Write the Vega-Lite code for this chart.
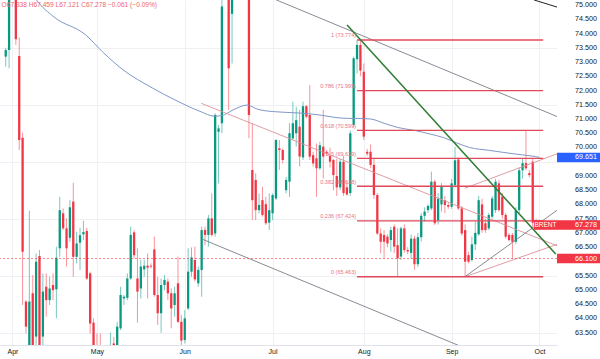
{
  "$schema": "https://vega.github.io/schema/vega-lite/v6.json",
  "width": 557,
  "height": 345,
  "autosize": {"type": "none"},
  "padding": {"left": 0, "top": 0, "right": 43, "bottom": 14},
  "background": "#ffffff",
  "config": {"view": {"stroke": null}, "font": "Liberation Sans"},
  "title": {"text": "O67.338 H67.459 L67.121 C67.278 \u22120.061 (\u22120.09%)", "anchor": "start", "orient": "top", "offset": -9, "fontSize": 6.6, "fontWeight": "normal", "color": "#ef5f6d", "baseline": "top", "dx": 2},
  "datasets": {
    "candles": [
      {"d":"2025-03-30","i":-2,"o":73.19,"h":73.5,"l":72.84,"c":73.42},
      {"d":"2025-03-31","i":-1,"o":73.42,"h":75.6,"l":72.78,"c":75.4},
      {"d":"2025-04-01","i":0,"o":75.5,"h":75.9,"l":75.25,"c":75.6},
      {"d":"2025-04-02","i":1,"o":75.6,"h":75.8,"l":73.6,"c":73.8},
      {"d":"2025-04-03","i":2,"o":73.21,"h":73.87,"l":69.91,"c":70.26},
      {"d":"2025-04-04","i":3,"o":70.34,"h":70.52,"l":64.47,"c":66.34},
      {"d":"2025-04-06","i":4,"o":64.59,"h":64.64,"l":63.47,"c":63.71},
      {"d":"2025-04-07","i":5,"o":62.9,"h":67.78,"l":62.5,"c":64.59},
      {"d":"2025-04-08","i":6,"o":64.88,"h":65.52,"l":62.4,"c":62.7},
      {"d":"2025-04-09","i":7,"o":63.36,"h":66.28,"l":62.5,"c":65.99},
      {"d":"2025-04-10","i":8,"o":66.19,"h":66.4,"l":62.5,"c":62.8},
      {"d":"2025-04-11","i":9,"o":63.36,"h":65.58,"l":62.9,"c":64.94},
      {"d":"2025-04-13","i":10,"o":65.11,"h":65.58,"l":64.06,"c":64.64},
      {"d":"2025-04-14","i":11,"o":64.64,"h":65.46,"l":64.47,"c":65.05},
      {"d":"2025-04-15","i":12,"o":65.17,"h":65.58,"l":64.64,"c":64.99},
      {"d":"2025-04-16","i":13,"o":65.02,"h":66.52,"l":64.0,"c":66.13},
      {"d":"2025-04-17","i":14,"o":66.46,"h":68.27,"l":66.16,"c":67.8},
      {"d":"2025-04-20","i":15,"o":67.69,"h":67.86,"l":67.1,"c":67.16},
      {"d":"2025-04-21","i":16,"o":67.16,"h":67.51,"l":65.82,"c":66.46},
      {"d":"2025-04-22","i":17,"o":66.83,"h":68.15,"l":66.69,"c":67.9},
      {"d":"2025-04-23","i":18,"o":68.1,"h":68.76,"l":65.46,"c":66.16},
      {"d":"2025-04-24","i":19,"o":66.16,"h":67.04,"l":65.93,"c":66.63},
      {"d":"2025-04-25","i":20,"o":66.66,"h":67.18,"l":65.7,"c":66.92},
      {"d":"2025-04-27","i":21,"o":66.95,"h":67.43,"l":66.75,"c":67.03},
      {"d":"2025-04-28","i":22,"o":67.07,"h":67.18,"l":65.35,"c":65.4},
      {"d":"2025-04-29","i":23,"o":65.58,"h":65.64,"l":63.47,"c":63.82},
      {"d":"2025-04-30","i":24,"o":63.85,"h":64.0,"l":62.5,"c":62.8},
      {"d":"2025-05-01","i":25,"o":62.8,"h":63.47,"l":62.3,"c":62.6},
      {"d":"2025-05-02","i":26,"o":62.6,"h":63.47,"l":61.8,"c":62.0},
      {"d":"2025-05-04","i":27,"o":62.0,"h":62.4,"l":61.5,"c":61.7},
      {"d":"2025-05-05","i":28,"o":61.7,"h":62.2,"l":60.9,"c":61.2},
      {"d":"2025-05-06","i":29,"o":61.2,"h":63.5,"l":61.0,"c":63.0},
      {"d":"2025-05-07","i":30,"o":63.12,"h":63.35,"l":62.2,"c":62.85},
      {"d":"2025-05-08","i":31,"o":62.9,"h":63.88,"l":62.6,"c":63.71},
      {"d":"2025-05-09","i":32,"o":63.65,"h":65.11,"l":63.59,"c":64.82},
      {"d":"2025-05-11","i":33,"o":64.7,"h":64.82,"l":64.47,"c":64.76},
      {"d":"2025-05-12","i":34,"o":64.72,"h":65.58,"l":64.64,"c":65.4},
      {"d":"2025-05-13","i":35,"o":65.4,"h":67.22,"l":65.35,"c":66.93},
      {"d":"2025-05-14","i":36,"o":67.02,"h":67.1,"l":66.11,"c":66.22},
      {"d":"2025-05-15","i":37,"o":65.4,"h":66.46,"l":63.85,"c":64.94},
      {"d":"2025-05-16","i":38,"o":65.05,"h":66.05,"l":64.7,"c":65.82},
      {"d":"2025-05-18","i":39,"o":65.72,"h":66.05,"l":65.46,"c":65.85},
      {"d":"2025-05-19","i":40,"o":65.85,"h":66.28,"l":64.7,"c":65.78},
      {"d":"2025-05-20","i":41,"o":65.85,"h":65.93,"l":65.75,"c":65.82},
      {"d":"2025-05-21","i":42,"o":66.42,"h":66.87,"l":64.76,"c":64.82},
      {"d":"2025-05-22","i":43,"o":64.82,"h":65.46,"l":63.77,"c":64.18},
      {"d":"2025-05-23","i":44,"o":64.18,"h":65.4,"l":63.49,"c":65.17},
      {"d":"2025-05-25","i":45,"o":65.17,"h":65.52,"l":64.99,"c":65.35},
      {"d":"2025-05-26","i":46,"o":65.29,"h":65.4,"l":64.64,"c":64.88},
      {"d":"2025-05-27","i":47,"o":64.88,"h":65.05,"l":63.65,"c":64.35},
      {"d":"2025-05-28","i":48,"o":64.47,"h":65.11,"l":64.06,"c":64.88},
      {"d":"2025-05-29","i":49,"o":65.23,"h":66.17,"l":63.83,"c":63.88},
      {"d":"2025-05-30","i":50,"o":63.88,"h":64.12,"l":63.06,"c":63.22},
      {"d":"2025-06-01","i":51,"o":63.24,"h":64.29,"l":63.12,"c":64.0},
      {"d":"2025-06-02","i":52,"o":64.35,"h":66.46,"l":64.29,"c":65.64},
      {"d":"2025-06-03","i":53,"o":65.64,"h":66.49,"l":65.46,"c":66.14},
      {"d":"2025-06-04","i":54,"o":66.05,"h":66.52,"l":65.29,"c":65.37},
      {"d":"2025-06-05","i":55,"o":65.23,"h":65.82,"l":65.11,"c":65.7},
      {"d":"2025-06-06","i":56,"o":65.7,"h":67.22,"l":64.76,"c":67.1},
      {"d":"2025-06-08","i":57,"o":67.1,"h":67.22,"l":66.57,"c":66.93},
      {"d":"2025-06-09","i":58,"o":66.93,"h":67.63,"l":66.52,"c":67.51},
      {"d":"2025-06-10","i":59,"o":67.51,"h":68.39,"l":66.87,"c":66.93},
      {"d":"2025-06-11","i":60,"o":66.98,"h":71.2,"l":66.87,"c":71.14},
      {"d":"2025-06-12","i":61,"o":70.55,"h":70.79,"l":68.74,"c":70.67},
      {"d":"2025-06-13","i":62,"o":70.85,"h":75.5,"l":70.5,"c":74.95},
      {"d":"2025-06-15","i":63,"o":75.4,"h":76.8,"l":75.25,"c":76.2},
      {"d":"2025-06-16","i":64,"o":76.0,"h":76.3,"l":71.32,"c":72.78},
      {"d":"2025-06-17","i":65,"o":74.69,"h":75.9,"l":72.95,"c":75.6},
      {"d":"2025-06-18","i":66,"o":75.6,"h":76.6,"l":75.3,"c":76.3},
      {"d":"2025-06-19","i":67,"o":76.3,"h":77.8,"l":75.9,"c":77.4},
      {"d":"2025-06-20","i":68,"o":77.4,"h":77.6,"l":75.8,"c":76.3},
      {"d":"2025-06-22","i":69,"o":76.9,"h":78.0,"l":76.0,"c":77.0},
      {"d":"2025-06-23","i":70,"o":77.0,"h":77.3,"l":70.32,"c":71.14},
      {"d":"2025-06-24","i":71,"o":69.21,"h":70.85,"l":67.45,"c":68.15},
      {"d":"2025-06-25","i":72,"o":68.86,"h":69.09,"l":67.45,"c":67.8},
      {"d":"2025-06-26","i":73,"o":67.8,"h":68.39,"l":67.69,"c":67.98},
      {"d":"2025-06-27","i":74,"o":68.15,"h":68.62,"l":67.57,"c":67.63},
      {"d":"2025-06-29","i":75,"o":68.01,"h":68.27,"l":67.28,"c":67.34},
      {"d":"2025-06-30","i":76,"o":67.36,"h":68.39,"l":67.1,"c":67.8},
      {"d":"2025-07-01","i":77,"o":67.69,"h":68.39,"l":67.45,"c":68.33},
      {"d":"2025-07-02","i":78,"o":68.21,"h":70.3,"l":68.15,"c":70.26},
      {"d":"2025-07-03","i":79,"o":69.97,"h":70.26,"l":69.21,"c":69.91},
      {"d":"2025-07-04","i":80,"o":69.91,"h":69.97,"l":69.44,"c":69.56},
      {"d":"2025-07-06","i":81,"o":68.5,"h":68.97,"l":68.39,"c":68.86},
      {"d":"2025-07-07","i":82,"o":68.8,"h":70.85,"l":68.27,"c":70.5},
      {"d":"2025-07-08","i":83,"o":70.32,"h":71.61,"l":70.26,"c":70.85},
      {"d":"2025-07-09","i":84,"o":70.5,"h":71.43,"l":70.03,"c":70.96},
      {"d":"2025-07-10","i":85,"o":70.73,"h":71.32,"l":69.33,"c":69.68},
      {"d":"2025-07-11","i":86,"o":69.65,"h":71.61,"l":69.56,"c":71.45},
      {"d":"2025-07-13","i":87,"o":71.45,"h":71.49,"l":71.02,"c":71.08},
      {"d":"2025-07-14","i":88,"o":71.14,"h":72.19,"l":69.56,"c":69.68},
      {"d":"2025-07-15","i":89,"o":69.73,"h":69.85,"l":69.33,"c":69.44},
      {"d":"2025-07-16","i":90,"o":69.62,"h":70.14,"l":68.27,"c":69.27},
      {"d":"2025-07-17","i":91,"o":69.27,"h":70.2,"l":69.21,"c":70.08},
      {"d":"2025-07-18","i":92,"o":70.03,"h":71.32,"l":68.91,"c":69.68},
      {"d":"2025-07-20","i":93,"o":69.85,"h":69.91,"l":69.7,"c":69.79},
      {"d":"2025-07-21","i":94,"o":69.7,"h":70.0,"l":69.3,"c":69.5},
      {"d":"2025-07-22","i":95,"o":69.56,"h":69.6,"l":68.5,"c":69.03},
      {"d":"2025-07-23","i":96,"o":69.0,"h":69.6,"l":68.3,"c":68.6},
      {"d":"2025-07-24","i":97,"o":68.6,"h":69.6,"l":68.5,"c":69.5},
      {"d":"2025-07-25","i":98,"o":69.5,"h":69.7,"l":68.3,"c":68.4},
      {"d":"2025-07-27","i":99,"o":68.6,"h":68.8,"l":68.3,"c":68.35},
      {"d":"2025-07-28","i":100,"o":68.4,"h":70.6,"l":68.3,"c":70.5},
      {"d":"2025-07-29","i":101,"o":70.79,"h":73.19,"l":70.73,"c":73.13},
      {"d":"2025-07-30","i":102,"o":73.1,"h":73.77,"l":72.6,"c":73.6},
      {"d":"2025-07-31","i":103,"o":73.6,"h":73.77,"l":72.5,"c":72.7},
      {"d":"2025-08-01","i":104,"o":72.66,"h":72.95,"l":70.26,"c":70.38},
      {"d":"2025-08-03","i":105,"o":69.85,"h":69.95,"l":69.7,"c":69.78},
      {"d":"2025-08-04","i":106,"o":69.85,"h":70.1,"l":69.27,"c":69.39},
      {"d":"2025-08-05","i":107,"o":69.39,"h":69.6,"l":68.2,"c":68.33},
      {"d":"2025-08-06","i":108,"o":68.33,"h":68.4,"l":66.93,"c":66.98},
      {"d":"2025-08-07","i":109,"o":66.98,"h":67.16,"l":66.28,"c":66.69},
      {"d":"2025-08-08","i":110,"o":66.93,"h":67.1,"l":66.11,"c":66.69},
      {"d":"2025-08-10","i":111,"o":66.87,"h":66.95,"l":66.5,"c":66.63},
      {"d":"2025-08-11","i":112,"o":66.75,"h":67.22,"l":66.34,"c":67.1},
      {"d":"2025-08-12","i":113,"o":67.22,"h":67.3,"l":66.3,"c":66.52},
      {"d":"2025-08-13","i":114,"o":66.57,"h":67.16,"l":65.46,"c":66.11},
      {"d":"2025-08-14","i":115,"o":66.17,"h":67.22,"l":66.05,"c":67.16},
      {"d":"2025-08-15","i":116,"o":67.16,"h":67.3,"l":66.3,"c":66.4},
      {"d":"2025-08-17","i":117,"o":66.4,"h":66.5,"l":66.25,"c":66.35},
      {"d":"2025-08-18","i":118,"o":66.3,"h":66.95,"l":66.1,"c":66.8},
      {"d":"2025-08-19","i":119,"o":66.8,"h":66.9,"l":65.7,"c":65.9},
      {"d":"2025-08-20","i":120,"o":65.9,"h":67.0,"l":65.8,"c":66.85},
      {"d":"2025-08-21","i":121,"o":66.85,"h":67.7,"l":66.7,"c":67.6},
      {"d":"2025-08-22","i":122,"o":67.6,"h":67.9,"l":67.4,"c":67.75},
      {"d":"2025-08-24","i":123,"o":67.8,"h":68.0,"l":67.7,"c":67.95},
      {"d":"2025-08-25","i":124,"o":67.86,"h":69.15,"l":67.8,"c":68.8},
      {"d":"2025-08-26","i":125,"o":68.8,"h":68.86,"l":67.28,"c":67.34},
      {"d":"2025-08-27","i":126,"o":67.45,"h":68.4,"l":67.3,"c":68.2},
      {"d":"2025-08-28","i":127,"o":68.0,"h":68.75,"l":67.75,"c":68.62},
      {"d":"2025-08-29","i":128,"o":68.15,"h":68.3,"l":67.7,"c":67.98},
      {"d":"2025-08-31","i":129,"o":67.98,"h":68.05,"l":67.85,"c":67.92},
      {"d":"2025-09-01","i":130,"o":67.92,"h":68.9,"l":67.85,"c":68.74},
      {"d":"2025-09-02","i":131,"o":68.68,"h":70.03,"l":68.6,"c":69.55},
      {"d":"2025-09-03","i":132,"o":69.58,"h":69.65,"l":67.8,"c":67.86},
      {"d":"2025-09-04","i":133,"o":67.86,"h":67.95,"l":66.9,"c":66.98},
      {"d":"2025-09-05","i":134,"o":67.1,"h":67.3,"l":65.46,"c":65.99},
      {"d":"2025-09-07","i":135,"o":66.22,"h":66.34,"l":65.93,"c":65.99},
      {"d":"2025-09-08","i":136,"o":66.05,"h":66.87,"l":65.99,"c":66.6},
      {"d":"2025-09-09","i":137,"o":66.6,"h":67.4,"l":66.4,"c":67.0},
      {"d":"2025-09-10","i":138,"o":66.95,"h":68.3,"l":66.9,"c":68.15},
      {"d":"2025-09-11","i":139,"o":68.0,"h":68.2,"l":67.0,"c":67.1},
      {"d":"2025-09-12","i":140,"o":67.34,"h":67.5,"l":67.0,"c":67.1},
      {"d":"2025-09-14","i":141,"o":67.16,"h":67.7,"l":67.1,"c":67.63},
      {"d":"2025-09-15","i":142,"o":67.57,"h":68.3,"l":67.5,"c":68.21},
      {"d":"2025-09-16","i":143,"o":67.8,"h":68.9,"l":67.7,"c":68.8},
      {"d":"2025-09-17","i":144,"o":68.74,"h":68.85,"l":67.75,"c":67.8},
      {"d":"2025-09-18","i":145,"o":68.27,"h":68.4,"l":67.5,"c":67.63},
      {"d":"2025-09-19","i":146,"o":67.63,"h":67.7,"l":66.8,"c":66.87},
      {"d":"2025-09-21","i":147,"o":66.93,"h":67.0,"l":66.7,"c":66.75},
      {"d":"2025-09-22","i":148,"o":66.93,"h":67.0,"l":66.1,"c":66.69},
      {"d":"2025-09-23","i":149,"o":66.69,"h":67.9,"l":66.6,"c":67.8},
      {"d":"2025-09-24","i":150,"o":67.8,"h":69.3,"l":67.7,"c":69.2},
      {"d":"2025-09-25","i":151,"o":69.2,"h":69.6,"l":68.9,"c":69.45},
      {"d":"2025-09-26","i":152,"o":69.45,"h":70.58,"l":69.2,"c":69.27},
      {"d":"2025-09-28","i":153,"o":69.1,"h":69.2,"l":68.95,"c":69.03},
      {"d":"2025-09-29","i":154,"o":69.5,"h":69.6,"l":67.2,"c":67.36},
      {"d":"2025-09-30","i":155,"o":67.4,"h":67.5,"l":67.1,"c":67.3},
      {"d":"2025-10-01","i":156,"o":67.338,"h":67.459,"l":67.121,"c":67.278}
    ],
    "ma": [
      {"i":5.1,"p":75.53},{"i":7.1,"p":75.18},{"i":12.3,"p":74.58},{"i":21.6,"p":73.96},{"i":26.9,"p":73.33},
      {"i":32.7,"p":72.73},{"i":41.4,"p":72.09},{"i":48.1,"p":71.67},{"i":55.9,"p":71.25},{"i":59.7,"p":71.1},
      {"i":62,"p":71.12},{"i":65,"p":71.3},{"i":69.5,"p":71.49},{"i":72.4,"p":71.35},{"i":77.1,"p":71.26},
      {"i":85,"p":71.21},{"i":91,"p":71.14},{"i":95.2,"p":71.06},{"i":99.5,"p":71.02},{"i":102,"p":71.02},
      {"i":106,"p":71.0},{"i":110,"p":70.85},{"i":114.1,"p":70.7},{"i":119,"p":70.6},{"i":123.7,"p":70.47},
      {"i":127.5,"p":70.35},{"i":131.5,"p":70.16},{"i":135.3,"p":70.0},{"i":141,"p":69.9},{"i":147,"p":69.8},
      {"i":151,"p":69.74},{"i":154.8,"p":69.68},{"i":156,"p":69.651}
    ],
    "greenLine": [{"id":"g","i":99.04,"p":74.3},{"id":"g","i":160.8,"p":66.26}],
    "grayLines": [
      {"id":"up","i":70,"p":75.58},{"id":"up","i":165.8,"p":70.86},
      {"id":"lo","i":56.4,"p":66.77},{"id":"lo","i":134.9,"p":62.91},
      {"id":"r1","i":133.9,"p":65.46},{"id":"r1","i":165.8,"p":68.19}
    ],
    "darkLine": [{"id":"k","i":154.4,"p":75.18},{"id":"k","i":165.8,"p":74.76}],
    "pinkLines": [
      {"id":"d","i":55.9,"p":71.55},{"id":"d","i":165.8,"p":66.33},
      {"id":"r2","i":133.9,"p":65.46},{"id":"r2","i":165.8,"p":66.79},
      {"id":"r3","i":133.9,"p":68.57},{"id":"r3","i":165.8,"p":69.98}
    ],
    "fib": [
      {"lbl":"1 (73.774)","p":73.774,"i0":102,"i1":157.1},
      {"lbl":"0.786 (71.995)","p":71.995,"i0":102,"i1":157.1},
      {"lbl":"0.618 (70.599)","p":70.599,"i0":102,"i1":157.1},
      {"lbl":"0.5 (69.619)","p":69.619,"i0":102,"i1":157.1},
      {"lbl":"0.382 (68.638)","p":68.638,"i0":102,"i1":157.1},
      {"lbl":"0.236 (67.424)","p":67.424,"i0":102,"i1":157.1},
      {"lbl":"0 (65.463)","p":65.463,"i0":102,"i1":157.1}
    ],
    "ticks": [
      {"v":63.5},{"v":64},{"v":64.5},{"v":65},{"v":65.5},{"v":66.5},{"v":67},{"v":67.5},{"v":68},{"v":68.5},{"v":69},
      {"v":70},{"v":70.5},{"v":71},{"v":71.5},{"v":72},{"v":72.5},{"v":73},{"v":73.5},{"v":74},{"v":74.5},{"v":75}
    ],
    "tags": [
      {"k":"ma","p":69.651,"t":"69.651"},
      {"k":"last","p":67.278,"t":"67.278"},
      {"k":"alert","p":66.1,"t":"66.100"}
    ]
  },
  "layer": [
    {
      "data": {"name": "candles"},
      "mark": {"type": "rule", "strokeWidth": 0.9, "opacity": 0.6, "clip": true},
      "encoding": {
        "x": {"field": "i", "type": "quantitative", "title": null, "scale": {"domain": [-2.21, 159.71], "nice": false, "zero": false},
          "axis": {"orient": "bottom", "values": [0, 25, 51, 77, 104, 130, 156], "labelExpr": "datum.value==0?'Apr':datum.value==25?'May':datum.value==51?'Jun':datum.value==77?'Jul':datum.value==104?'Aug':datum.value==130?'Sep':'Oct'", "title": null, "labelFontSize": 7, "labelColor": "#131722", "ticks": false, "domain": true, "domainColor": "#e0e3eb", "labelPadding": 2, "grid": true, "gridColor": "#eef0f4", "labelFlush": false, "labelOverlap": false}},
        "y": {"field": "l", "type": "quantitative", "title": null, "scale": {"domain": [63.065, 75.178], "nice": false, "zero": false},
          "axis": {"orient": "right", "values": [63.5,64,64.5,65,65.5,66,66.5,67,67.5,68,68.5,69,69.5,70,70.5,71,71.5,72,72.5,73,73.5,74,74.5,75], "title": null, "labels": false, "ticks": false, "domain": false, "grid": true, "gridColor": "#eef0f4", "zindex": 0}},
        "y2": {"field": "h"},
        "color": {"condition": {"test": "datum.c >= datum.o", "value": "#089981"}, "value": "#f23645"}
      }
    },
    {
      "data": {"name": "candles"},
      "mark": {"type": "bar", "size": 2.3, "clip": true},
      "encoding": {
        "x": {"field": "i", "type": "quantitative", "title": null},
        "y": {"field": "o", "type": "quantitative", "title": null},
        "y2": {"field": "c"},
        "color": {"condition": {"test": "datum.c >= datum.o", "value": "#089981"}, "value": "#f23645"}
      }
    },
    {
      "data": {"name": "ma"},
      "mark": {"type": "line", "color": "#7f98c8", "strokeWidth": 1, "interpolate": "monotone", "clip": true},
      "encoding": {
        "x": {"field": "i", "type": "quantitative", "title": null},
        "y": {"field": "p", "type": "quantitative", "title": null}
      }
    },
    {
      "data": {"name": "pinkLines"},
      "mark": {"type": "line", "color": "#d9929a", "strokeWidth": 0.9, "clip": true},
      "encoding": {
        "x": {"field": "i", "type": "quantitative", "title": null},
        "y": {"field": "p", "type": "quantitative", "title": null},
        "detail": {"field": "id"}
      }
    },
    {
      "data": {"name": "grayLines"},
      "mark": {"type": "line", "color": "#6a6d78", "strokeWidth": 0.8, "clip": true},
      "encoding": {
        "x": {"field": "i", "type": "quantitative", "title": null},
        "y": {"field": "p", "type": "quantitative", "title": null},
        "detail": {"field": "id"}
      }
    },
    {
      "data": {"name": "darkLine"},
      "mark": {"type": "line", "color": "#222222", "strokeWidth": 1, "clip": true},
      "encoding": {
        "x": {"field": "i", "type": "quantitative", "title": null},
        "y": {"field": "p", "type": "quantitative", "title": null}
      }
    },
    {
      "data": {"name": "fib"},
      "mark": {"type": "rule", "color": "#e0485a", "strokeWidth": 1.4, "clip": true},
      "encoding": {
        "x": {"field": "i0", "type": "quantitative", "title": null},
        "x2": {"field": "i1"},
        "y": {"field": "p", "type": "quantitative", "title": null}
      }
    },
    {
      "data": {"name": "greenLine"},
      "mark": {"type": "line", "color": "#2e7d32", "strokeWidth": 1.5, "clip": true},
      "encoding": {
        "x": {"field": "i", "type": "quantitative", "title": null},
        "y": {"field": "p", "type": "quantitative", "title": null}
      }
    },
    {
      "data": {"name": "fib"},
      "mark": {"type": "text", "color": "#e8737f", "fontSize": 5.5, "align": "right", "baseline": "bottom", "dx": -1, "dy": -1.5},
      "encoding": {
        "x": {"field": "i0", "type": "quantitative", "title": null},
        "y": {"field": "p", "type": "quantitative", "title": null},
        "text": {"field": "lbl"}
      }
    },
    {
      "data": {"values": [{"p": 66.1}]},
      "mark": {"type": "rule", "color": "#f23645", "strokeWidth": 0.8, "strokeDash": [2, 2], "opacity": 0.8},
      "encoding": {
        "y": {"field": "p", "type": "quantitative", "title": null}
      }
    },
    {
      "data": {"name": "ticks"},
      "mark": {"type": "text", "color": "#131722", "fontSize": 7.2, "align": "right", "baseline": "middle", "dx": 40},
      "encoding": {
        "x": {"value": "width"},
        "y": {"field": "v", "type": "quantitative", "title": null},
        "text": {"field": "v", "type": "quantitative", "format": ".3f"}
      }
    },
    {
      "data": {"name": "tags"},
      "mark": {"type": "rule", "strokeWidth": 9.5, "strokeCap": "butt", "xOffset": 0, "x2Offset": 43},
      "encoding": {
        "x": {"value": "width"},
        "x2": {"value": "width"},
        "y": {"field": "p", "type": "quantitative", "title": null},
        "color": {"field": "k", "type": "nominal", "scale": {"domain": ["ma", "last", "alert"], "range": ["#2962ff", "#f23645", "#f23645"]}, "legend": null}
      }
    },
    {
      "data": {"name": "tags"},
      "transform": [{"filter": "datum.k == 'last'"}],
      "mark": {"type": "rule", "strokeWidth": 9.5, "strokeCap": "butt", "xOffset": -23, "x2Offset": 0, "color": "#f23645"},
      "encoding": {
        "x": {"value": "width"},
        "x2": {"value": "width"},
        "y": {"field": "p", "type": "quantitative", "title": null}
      }
    },
    {
      "data": {"name": "tags"},
      "transform": [{"filter": "datum.k == 'last'"}],
      "mark": {"type": "text", "color": "#ffffff", "fontSize": 6.5, "align": "center", "baseline": "middle", "dx": -11.5},
      "encoding": {
        "x": {"value": "width"},
        "y": {"field": "p", "type": "quantitative", "title": null},
        "text": {"value": "BRENT"}
      }
    },
    {
      "data": {"name": "tags"},
      "mark": {"type": "text", "color": "#ffffff", "fontSize": 7.2, "align": "right", "baseline": "middle", "dx": 40},
      "encoding": {
        "x": {"value": "width"},
        "y": {"field": "p", "type": "quantitative", "title": null},
        "text": {"field": "t"}
      }
    }
  ]
}
